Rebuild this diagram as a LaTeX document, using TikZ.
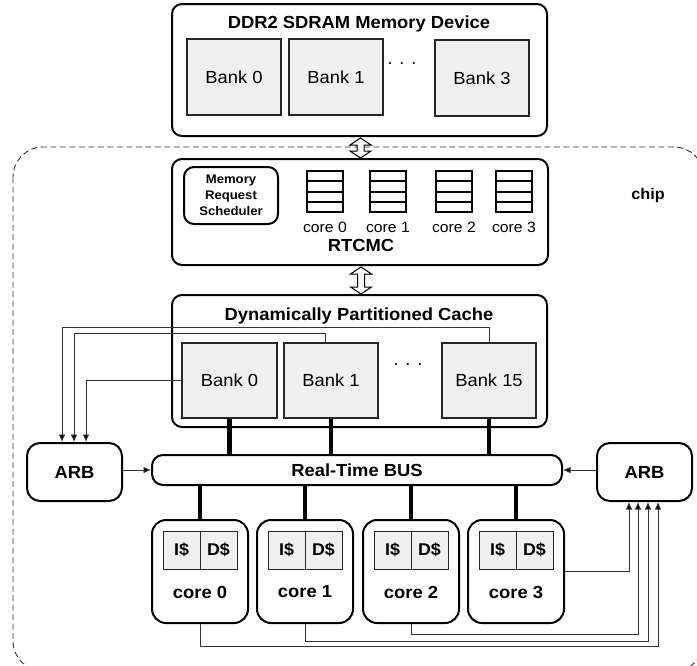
\documentclass[tikz,border=0pt]{standalone}
\usepackage{fontspec}
\setmainfont{Liberation Sans}[FakeStretch=1.05]
\usetikzlibrary{arrows.meta,calc}

% place a node by its corner coordinates (x1,y1)-(x2,y2), y pointing down
\newcommand\pbox[7]{%
  \node[#2, minimum width={(#5)-(#3)}, minimum height={(#6)-(#4)}]
    (#1) at ({((#3)+(#5))/2},{((#4)+(#6))/2}) {#7};}

% hollow two-headed link from an upper anchor #1 straight down to #2
\newcommand\hollowlink[2]{%
  \draw[hollowline] (#1) -- ++(10.5,7) -- ++(-7,0) -- ($(#2)+(3.5,-7)$)
    -- ++(7,0) -- (#2) -- ++(-10.5,-7) -- ++(7,0) -- ($(#1)+(-3.5,7)$)
    -- ++(-7,0) -- cycle;}

\tikzset{
  frame/.style={draw, line width=2, rounded corners=10, fill=white, inner sep=0},
  bankbox/.style={draw=black!85, line width=1.2, fill=black!6, inner sep=0,
    font=\fontsize{17.5}{20}\selectfont},
  cachepart/.style={draw=black!85, line width=1, fill=black!6, inner sep=0,
    font=\bfseries\fontsize{17}{20}\selectfont},
  queue/.style={draw, line width=2, inner sep=0},
  corebox/.style={draw, line width=2, rounded corners=14, fill=white, inner sep=0},
  arbbox/.style={draw, line width=2, rounded corners=13, fill=white, inner sep=0,
    font=\bfseries\fontsize{17.5}{20}\selectfont},
  heading/.style={inner sep=0, font=\bfseries\fontsize{17.5}{20}\selectfont},
  small/.style={inner sep=0, font=\fontsize{15}{18}\selectfont},
  dotsep/.style={inner sep=0, font=\fontsize{17.5}{20}\selectfont},
  link/.style={draw=black!80, line width=0.9},
  linkarrow/.style={link, -{Latex[length=7.5,width=6.5,fill=black]}},
  wide/.style={line width=4.5},
  hollowline/.style={draw=black, fill=white, line width=1, line join=miter},
  chipline/.style={draw=black!80, line width=0.9, dash pattern=on 6pt off 3.5pt,
    rounded corners=30},
}

\begin{document}
\begin{tikzpicture}[x=1pt,y=-1pt]
\useasboundingbox (0,0) rectangle (697,665);

% chip boundary (runs past the page edge on the right and bottom)
\begin{scope}
  \clip (0,0) rectangle (697,665);
  \draw[chipline] (13,147) rectangle (704,671);
\end{scope}
\node[inner sep=0, font=\bfseries\fontsize{15.5}{18}\selectfont] (chip) at (648,195) {chip};

% DDR2 memory device
\pbox{ddr}{frame}{172}{4}{547}{136}{}
\node[heading] (ddrt) at (359,24) {DDR2 SDRAM Memory Device};
\pbox{db0}{bankbox}{187}{39}{281}{115}{Bank 0}
\pbox{db1}{bankbox}{289}{39}{383}{115}{Bank 1}
\pbox{db3}{bankbox}{435}{40}{529}{116}{Bank 3}
\node[dotsep] (ddots) at (402,64) {. . .};

% RTCMC memory controller
\pbox{rtc}{frame}{172}{159}{548}{265}{}
\pbox{mrs}{frame}{184}{167}{278}{224}{}
\node[inner sep=0, align=center, font=\bfseries\fontsize{12.5}{16}\selectfont] (mrst)
  at (231,195) {Memory\\Request\\Scheduler};
\foreach \i/\x in {0/307,1/370,2/436,3/496}{
  \pbox{q\i}{queue}{\x}{171}{\x+36}{212}{}
  \foreach \k in {1,2,3}{
    \draw[line width=2] ($(q\i.north west)!\k/4!(q\i.south west)$)
      -- ($(q\i.north east)!\k/4!(q\i.south east)$);
  }
  \node[small] (ql\i) at ($(q\i.south)+(0,14)$) {core \i};
}
\node[heading] (rtct) at (361,245) {RTCMC};

% dynamically partitioned cache
\pbox{dpc}{frame}{172}{295}{547}{427}{}
\node[heading] (dpct) at (359,316) {Dynamically Partitioned Cache};
\pbox{cb0}{bankbox}{182}{343}{277}{418}{Bank 0}
\pbox{cb1}{bankbox}{284}{343}{378}{418}{Bank 1}
\pbox{cb15}{bankbox}{442}{343}{536}{418}{Bank 15}
\node[dotsep] (cdots) at (408,365) {. . .};

% hollow links between memory, controller and cache
\coordinate (h1top) at ($(ddr.south)+(1,1)$);
\coordinate (h1bot) at (h1top |- rtc.north);
\hollowlink{h1top}{h1bot}
\coordinate (h2top) at ($(rtc.south)+(1,1)$);
\coordinate (h2bot) at (h2top |- dpc.north);
\hollowlink{h2top}{h2bot}

% bus and arbiters
\node[draw, line width=2, rounded corners=11, fill=white, inner sep=0,
  minimum width=410, minimum height=30, font=\bfseries\fontsize{17.5}{20}\selectfont]
  (bus) at (357,470) {Real-Time BUS};
\pbox{arbL}{arbbox}{27}{443}{122}{501}{ARB}
\pbox{arbR}{arbbox}{597}{443}{692}{501}{ARB}
\draw[linkarrow] (arbL.east |- bus.west) -- (bus.west);
\draw[linkarrow] (arbR.west |- bus.east) -- (bus.east);

% cores with their private caches
\foreach \i/\x in {0/152,1/257,2/363,3/468}{
  \pbox{c\i}{corebox}{\x}{520}{\x+96}{623}{}
  \pbox{c\i i}{cachepart}{\x+11}{531}{\x+48}{569}{I\$}
  \pbox{c\i d}{cachepart}{\x+48}{531}{\x+85}{569}{D\$}
  \node[heading] (cl\i) at ($(c\i.north)+(0,73)$) {core \i};
  \draw[wide] (c\i.north) -- (c\i.north |- bus.south);
}

% cache banks to bus
\draw[wide] (cb0.south) -- (cb0.south |- bus.north);
\draw[wide] (cb1.south) -- (cb1.south |- bus.north);
\draw[wide] (cb15.south) -- (cb15.south |- bus.north);

% cache banks to left arbiter
\draw[linkarrow] (cb15.north) |- (62,327) -- (62,0 |- arbL.north);
\draw[linkarrow] ($(cb1.north)+(-6,0)$) |- (74,333) -- (74,0 |- arbL.north);
\draw[linkarrow] (cb0.west) -| (86,0 |- arbL.north);

% cores to right arbiter
\draw[linkarrow] (c3.east) -| (629,0 |- arbR.south);
\draw[linkarrow] (c2.south) |- (638,634) -- (638,0 |- arbR.south);
\draw[linkarrow] (c1.south) |- (648,641) -- (648,0 |- arbR.south);
\draw[linkarrow] (c0.south) |- (658,646) -- (658,0 |- arbR.south);
\end{tikzpicture}
\end{document}
